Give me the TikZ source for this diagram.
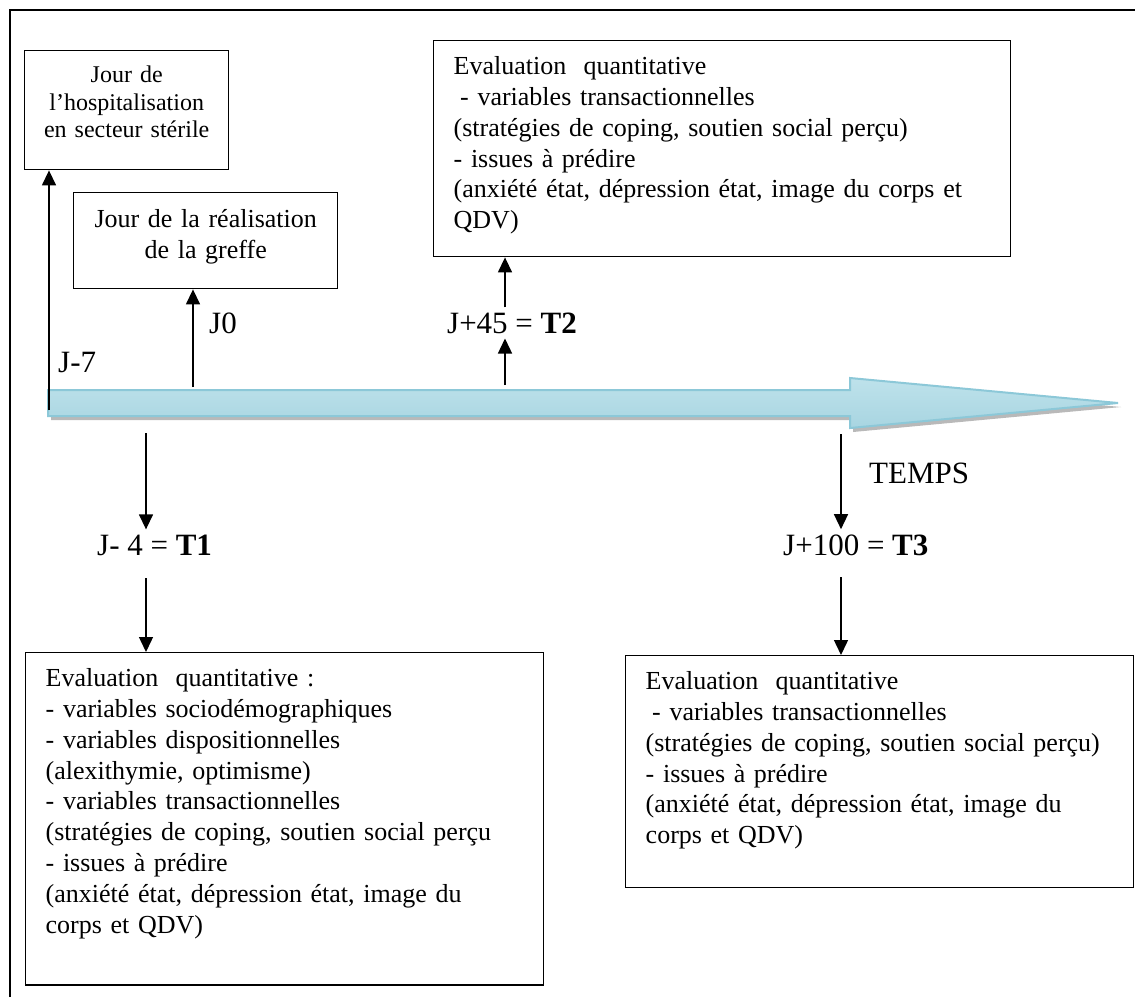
\documentclass[tikz,border=0pt]{standalone}
\usepackage{fontspec}
\setmainfont{Liberation Serif}
\usetikzlibrary{arrows.meta}
\definecolor{tlline}{RGB}{140,200,216}
\definecolor{tltop}{RGB}{190,226,235}
\definecolor{tlmid}{RGB}{228,243,247}
\definecolor{tlbot}{RGB}{168,213,225}
\begin{document}
\begin{tikzpicture}[x=1pt,y=-1pt,
  evbox/.style={draw=black, line width=1.4pt, inner xsep=20pt, inner ysep=0pt,
    align=left, anchor=north west, font=\fontsize{26pt}{30.8pt}\selectfont},
  daybox/.style={draw=black, line width=1.4pt, inner xsep=0pt, inner ysep=0pt,
    align=center, anchor=north west},
  lab/.style={inner xsep=0pt, inner ysep=5pt, anchor=base west,
    font=\fontsize{31pt}{36pt}\selectfont},
  arr/.style={line width=1.4pt, -{Triangle[length=15pt,width=14pt]}}
]
\useasboundingbox (0,0) rectangle (1135,997);
\fill[white] (0,0) rectangle (1135,997);
% outer frame (only left and top visible)
\draw[line width=2pt] (10,997) -- (10,10) -- (1135,10);

% time line arrow: shadow, fill, outline
\fill[gray!55] (51,394) -- (853,394) -- (853,382) -- (1121,407) -- (853,432) -- (853,420) -- (51,420) -- cycle;
\shade[top color=tltop, middle color=tlmid, bottom color=tlbot]
  (48,390) -- (850,390) -- (850,378) -- (1118,403) -- (850,428) -- (850,416) -- (48,416) -- cycle;
\draw[tlline, line width=2pt, line join=miter]
  (48,390) -- (850,390) -- (850,378) -- (1118,403) -- (850,428) -- (850,416) -- (48,416) -- cycle;

% boxes
\node[daybox, text width=204pt, font=\fontsize{24pt}{27.5pt}\selectfont] (boxA) at (24,50)
  {\rule{0pt}{32pt}Jour de\\l’hospitalisation\\en secteur stérile\rule[-32pt]{0pt}{32pt}};
\node[daybox, text width=264pt, font=\fontsize{26pt}{31pt}\selectfont] (boxB) at (73,192)
  {\rule{0pt}{35pt}Jour de la réalisation\\de la greffe\rule[-30pt]{0pt}{30pt}};
\node[evbox, text width=537pt] (boxT2) at (433,40)
  {\rule{0pt}{34pt}Evaluation~ quantitative\\
   \hspace*{.25em}- variables transactionnelles\\
   (stratégies de coping, soutien social perçu)\\
   - issues à prédire\\
   (anxiété état, dépression état, image du corps et\\
   QDV)\rule[-28pt]{0pt}{28pt}};
\node[evbox, text width=478pt] (boxT1) at (25,652)
  {\rule{0pt}{34pt}Evaluation~ quantitative :\\
   - variables sociodémographiques\\
   - variables dispositionnelles\\
   (alexithymie, optimisme)\\
   - variables transactionnelles\\
   (stratégies de coping, soutien social perçu\\
   - issues à prédire\\
   (anxiété état, dépression état, image du\\
   corps et QDV)\rule[-52pt]{0pt}{52pt}};
\node[evbox, text width=468pt] (boxT3) at (625,655)
  {\rule{0pt}{34pt}Evaluation~ quantitative\\
   \hspace*{.25em}- variables transactionnelles\\
   (stratégies de coping, soutien social perçu)\\
   - issues à prédire\\
   (anxiété état, dépression état, image du\\
   corps et QDV)\rule[-44pt]{0pt}{44pt}};

% labels
\node[lab] (lJ7) at (58,372) {J-7};
\node[lab] (lJ0) at (209,333) {J0};
\node[lab] (lT2) at (447,333) {J+45 = \textbf{T2}};
\node[lab] (lT1) at (97,555) {J- 4 = \textbf{T1}};
\node[lab] (lT3) at (783,555) {J+100 = \textbf{T3}};
\node[lab] (ltemps) at (869,483) {TEMPS};

% anchor points on the time line
\coordinate (tJ7) at (49,410);
\coordinate (tJ0) at (193,387);
\coordinate (tT2) at (505,385);
\coordinate (tT1) at (146,433);
\coordinate (tT3) at (841,434);
\coordinate (cT1) at (146,578);
\coordinate (cT3) at (841,577);

% connectors
\draw[arr] (tJ7) -- (tJ7 |- boxA.south);
\draw[arr] (tJ0) -- (tJ0 |- boxB.south);
\draw[arr] (tT2) -- (tT2 |- lT2.south);
\draw[arr] (tT2 |- lT2.north) -- (tT2 |- boxT2.south);
\draw[arr] (tT1) -- (tT1 |- lT1.north);
\draw[arr] (cT1) -- (cT1 |- boxT1.north);
\draw[arr] (tT3) -- (tT3 |- lT3.north);
\draw[arr] (cT3) -- (cT3 |- boxT3.north);
\end{tikzpicture}
\end{document}
